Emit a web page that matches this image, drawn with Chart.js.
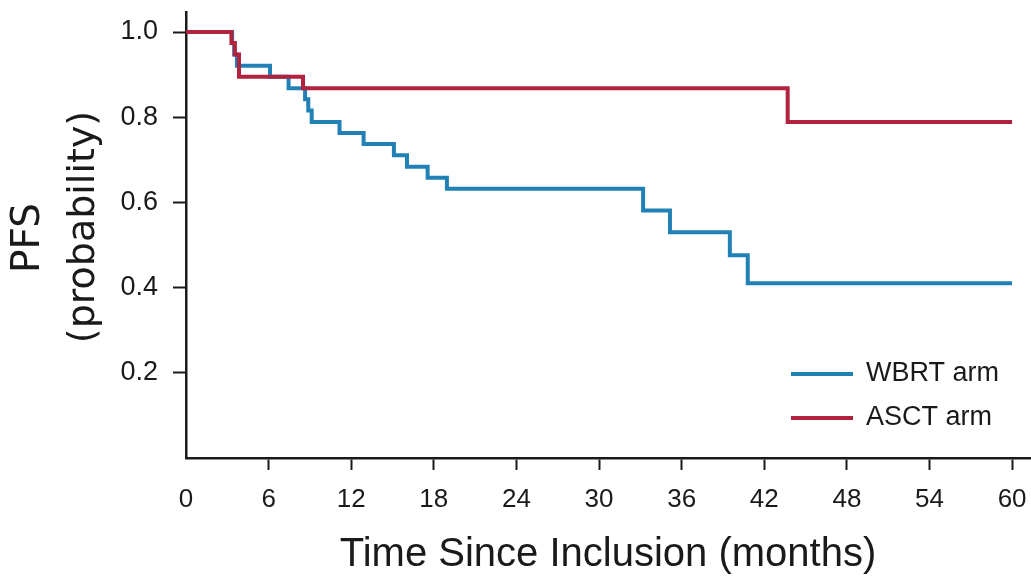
<!DOCTYPE html>
<html>
<head>
<meta charset="utf-8">
<script src="https://cdn.jsdelivr.net/npm/chart.js@4.4.1/dist/chart.umd.min.js"></script>
<style>
  html, body { margin: 0; padding: 0; background: #fff; }
  #wrap { width: 1031px; height: 576px; }
</style>
</head>
<body>
<div id="wrap"><canvas id="kmChart"></canvas></div>
<script>
// Kaplan-Meier steps: time in months, PFS probability
const wbrtTime = [0, 3.35, 3.5, 3.7, 6.1, 7.45, 8.65, 8.88, 9.13, 11.15, 12.9, 15.1, 16.05, 17.55, 18.95, 33.2, 35.15, 39.5, 40.8, 60];
const wbrtSurv = [1.0, 0.974, 0.947, 0.921, 0.895, 0.868, 0.842, 0.816, 0.789, 0.763, 0.737, 0.711, 0.684, 0.658, 0.632, 0.581, 0.530, 0.476, 0.410, 0.410];
const asctTime = [0, 3.3, 3.55, 3.85, 8.5, 43.7, 60];
const asctSurv = [1.0, 0.974, 0.947, 0.895, 0.868, 0.789, 0.789];

const armLabels = ["WBRT arm", "ASCT arm"];
const armColors = ["#2181b6", "#b1223f"];

const xTicks = [0, 6, 12, 18, 24, 30, 36, 42, 48, 54, 60];
const yTicks = [0.2, 0.4, 0.6, 0.8, 1.0];
const xTitle = "Time Since Inclusion (months)";
const yTitle = ["PFS", "(probability)"];

const ink = "#1a1a1a";
const sans = "'Liberation Sans', Arial, Helvetica, sans-serif";

function toPoints(times, surv) {
    return times.map((t, i) => ({ x: t, y: surv[i] }));
}

// y title and the legend inside the plot
const extraText = {
    id: "extraText",
    afterDraw(chart) {
        const ctx = chart.ctx;
        ctx.save();
        ctx.fillStyle = ink;
        ctx.textAlign = "center";
        ctx.textBaseline = "middle";

        ctx.save();
        ctx.translate(29, 238);
        ctx.rotate(-Math.PI / 2);
        ctx.font = "39px 'DejaVu Sans', sans-serif";
        ctx.fillText(yTitle[0], 0, 0);
        ctx.restore();

        ctx.save();
        ctx.translate(84, 227);
        ctx.rotate(-Math.PI / 2);
        ctx.font = "38px 'DejaVu Sans', sans-serif";
        ctx.fillText(yTitle[1], 0, 0);
        ctx.restore();

        // legend
        const rows = [374, 418];
        ctx.textAlign = "left";
        ctx.font = "27px " + sans;
        chart.data.datasets.forEach((ds, i) => {
            ctx.strokeStyle = ds.borderColor;
            ctx.lineWidth = 4;
            ctx.beginPath();
            ctx.moveTo(791, rows[i]);
            ctx.lineTo(853, rows[i]);
            ctx.stroke();
            ctx.fillStyle = ink;
            ctx.fillText(ds.label, 866, rows[i]);
        });
        ctx.restore();
    }
};

new Chart(document.getElementById("kmChart"), {
    type: "line",
    data: {
        datasets: [
            {
                label: armLabels[0],
                data: toPoints(wbrtTime, wbrtSurv),
                borderColor: armColors[0],
                borderWidth: 4,
                stepped: "before",
                pointRadius: 0,
                fill: false,
                order: 2
            },
            {
                label: armLabels[1],
                data: toPoints(asctTime, asctSurv),
                borderColor: armColors[1],
                borderWidth: 4,
                stepped: "before",
                pointRadius: 0,
                fill: false,
                order: 1
            }
        ]
    },
    options: {
        responsive: true,
        maintainAspectRatio: false,
        animation: false,
        layout: { padding: { top: 12, right: 1, bottom: 0, left: 0 } },
        plugins: {
            legend: { display: false },
            tooltip: { enabled: false }
        },
        scales: {
            x: {
                type: "linear",
                min: 0,
                max: 61.3,
                afterBuildTicks: s => { s.ticks = xTicks.map(v => ({ value: v })); },
                afterFit: s => { s.height = 118; s.paddingLeft = 0; s.paddingRight = 0; },
                grid: {
                    drawOnChartArea: false,
                    tickLength: 12,
                    tickWidth: 2,
                    tickColor: c => (c.tick && c.tick.value === 0) ? "rgba(0,0,0,0)" : ink
                },
                border: { display: true, color: ink, width: 2.5 },
                ticks: {
                    color: ink,
                    font: { family: sans, size: 26 },
                    padding: 14,
                    maxRotation: 0,
                    autoSkip: false
                },
                title: {
                    display: true,
                    text: xTitle,
                    color: ink,
                    font: { family: sans, size: 40, lineHeight: 1.05 },
                    padding: { top: 0, bottom: 0 }
                }
            },
            y: {
                min: 0,
                max: 1.047,
                afterBuildTicks: s => { s.ticks = yTicks.map(v => ({ value: v })); },
                afterFit: s => { s.width = 186; s.paddingTop = 0; s.paddingBottom = 0; },
                grid: {
                    drawOnChartArea: false,
                    tickLength: 13,
                    tickWidth: 2,
                    tickColor: ink
                },
                border: { display: true, color: ink, width: 2.5 },
                ticks: {
                    color: ink,
                    font: { family: sans, size: 27 },
                    padding: 15,
                    callback: v => v.toFixed(1)
                }
            }
        }
    },
    plugins: [extraText]
});
</script>
</body>
</html>
